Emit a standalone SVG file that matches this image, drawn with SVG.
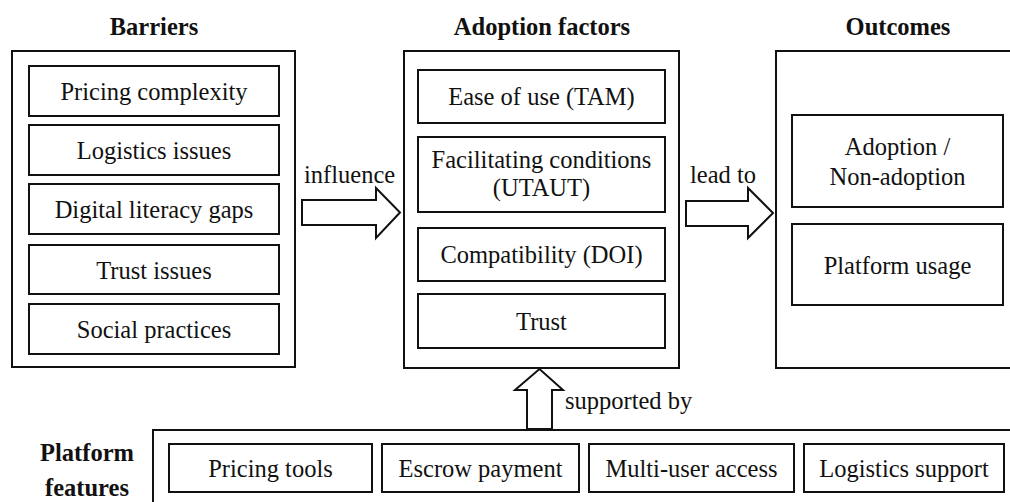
<svg xmlns="http://www.w3.org/2000/svg" width="1010" height="502" viewBox="0 0 1010 502">
<style>
  .box{fill:#fff;stroke:#111;stroke-width:2}
  .outer{fill:none;stroke:#111;stroke-width:2}
  .t{font-size:24.5px;fill:#111;text-anchor:middle}
  .h{font-size:24.5px;font-weight:bold;fill:#111;text-anchor:middle}
  .lbl{font-size:24.5px;fill:#111}
  .arrow{fill:#fff;stroke:#111;stroke-width:2;stroke-linejoin:miter}
</style>
<rect width="1010" height="502" fill="#fff"/>
<g font-family="Liberation Serif, DejaVu Serif, serif">
<g id="barriers">
  <text class="h" x="154" y="35">Barriers</text>
  <rect class="outer" x="12" y="51" width="283" height="316"/>
  <g id="b1"><rect class="box" x="29" y="66" width="250" height="50"/><text class="t" x="154" y="100">Pricing complexity</text></g>
  <g id="b2"><rect class="box" x="29" y="125" width="250" height="50"/><text class="t" x="154" y="159">Logistics issues</text></g>
  <g id="b3"><rect class="box" x="29" y="184" width="250" height="50"/><text class="t" x="154" y="218">Digital literacy gaps</text></g>
  <g id="b4"><rect class="box" x="29" y="245" width="250" height="49"/><text class="t" x="154" y="279">Trust issues</text></g>
  <g id="b5"><rect class="box" x="29" y="304" width="250" height="50"/><text class="t" x="154" y="338">Social practices</text></g>
</g>

<g id="adoption">
  <text class="h" x="542" y="35">Adoption factors</text>
  <rect class="outer" x="404" y="51" width="275" height="317"/>
  <g id="a1"><rect class="box" x="418" y="70" width="247" height="53"/><text class="t" x="541.5" y="105">Ease of use (TAM)</text></g>
  <g id="a2"><rect class="box" x="418" y="137" width="247" height="75"/><text class="t" x="541.5" y="168">Facilitating conditions</text><text class="t" x="541.5" y="196">(UTAUT)</text></g>
  <g id="a3"><rect class="box" x="418" y="228" width="247" height="53"/><text class="t" x="541.5" y="263">Compatibility (DOI)</text></g>
  <g id="a4"><rect class="box" x="418" y="294" width="247" height="54"/><text class="t" x="541.5" y="330">Trust</text></g>
</g>

<g id="outcomes">
  <text class="h" x="898" y="35">Outcomes</text>
  <rect class="outer" x="776" y="51" width="250" height="317"/>
  <g id="o1"><rect class="box" x="792" y="115" width="211" height="92"/><text class="t" x="897.5" y="155">Adoption /</text><text class="t" x="897.5" y="185">Non-adoption</text></g>
  <g id="o2"><rect class="box" x="792" y="224" width="211" height="81"/><text class="t" x="897.5" y="274">Platform usage</text></g>
</g>

<g id="platform">
  <text class="h" x="87" y="461">Platform</text>
  <text class="h" x="87" y="496">features</text>
  <rect class="outer" x="153" y="430" width="880" height="90"/>
  <g id="p1"><rect class="box" x="169" y="444" width="203" height="48"/><text class="t" x="270.5" y="477">Pricing tools</text></g>
  <g id="p2"><rect class="box" x="382" y="444" width="197" height="48"/><text class="t" x="480.5" y="477">Escrow payment</text></g>
  <g id="p3"><rect class="box" x="589" y="444" width="205" height="48"/><text class="t" x="691.5" y="477">Multi-user access</text></g>
  <g id="p4"><rect class="box" x="804" y="444" width="200" height="48"/><text class="t" x="904" y="477">Logistics support</text></g>
</g>

<g id="connectors">
  <polygon class="arrow" points="302,200 376,200 376,188 400,212.5 376,238 376,225 302,225"/>
  <text class="lbl" x="304" y="183">influence</text>
  <polygon class="arrow" points="686,201 748,201 748,188 773,213 748,238 748,226 686,226"/>
  <text class="lbl" x="690" y="183">lead to</text>
  <polygon class="arrow" points="527,429 527,390 515,390 539.5,369 563,390 552,390 552,429"/>
  <text class="lbl" x="565" y="409">supported by</text>
</g>
</g>
</svg>
